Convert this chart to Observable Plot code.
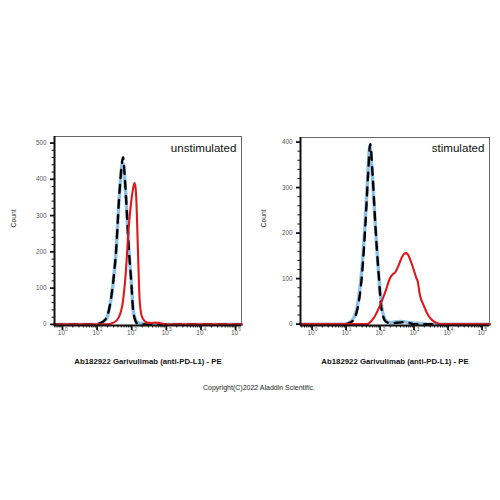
<!DOCTYPE html>
<html><head><meta charset="utf-8">
<script src="https://cdn.jsdelivr.net/npm/d3@7"></script>
<script src="https://cdn.jsdelivr.net/npm/@observablehq/plot@0.6"></script>
<style>
body{margin:0;background:#fff;}
#wrap{position:relative;width:500px;height:500px;background:#fff;font-family:"Liberation Sans",Arial,sans-serif;overflow:hidden;}
.panel{position:absolute;}
#copy{position:absolute;left:0;width:518px;top:384px;text-align:center;font-size:7px;color:#222;}
</style></head><body>
<div id="wrap">
<div id="left" class="panel" style="left:0;top:130px"></div>
<div id="right" class="panel" style="left:250px;top:130px"></div>
<div id="copy">Copyright(C)2022 Aladdin Scientific.</div>
</div>
<script>
// ---- data (x as log10 of PE fluorescence, y as counts) ----
const titles = ["unstimulated", "stimulated"];
const xLabel = "Ab182922 Garivulimab (anti-PD-L1) - PE";
const yLabel = "Count";
const decades = [0, 1, 2, 3, 4, 5];
const leftYTicks = [0, 100, 200, 300, 400, 500];
const rightYTicks = [0, 100, 200, 300, 400];

// unstimulated panel
const leftBlueLog   = [-0.23, 0.95, 1.1, 1.2, 1.3, 1.34, 1.4, 1.46, 1.5, 1.55, 1.6, 1.63, 1.67, 1.71, 1.74, 1.78, 1.84, 1.92, 1.99, 2.04, 2.1, 2.16, 2.25, 2.4, 2.5, 5.17];
const leftBlueCount = [0, 0, 3, 8, 22, 38, 68, 112, 150, 204, 285, 335, 390, 435, 445, 420, 342, 204, 113, 42, 15, 6, 3, 2, 0, 0];
const leftBlackLog   = [-0.23, 0.95, 1.0, 1.1, 1.2, 1.3, 1.34, 1.4, 1.46, 1.5, 1.55, 1.6, 1.63, 1.67, 1.71, 1.75, 1.79, 1.84, 1.92, 1.99, 2.04, 2.1, 2.16, 2.25, 5.17];
const leftBlackCount = [0, 0, 1, 4, 10, 25, 39, 70, 113, 150, 204, 290, 342, 395, 440, 461, 420, 342, 204, 113, 39, 12, 2, 0, 0];
const leftRedLog   = [-0.23, 1.24, 1.48, 1.63, 1.75, 1.84, 1.9, 1.99, 2.04, 2.08, 2.11, 2.13, 2.18, 2.23, 2.3, 2.45, 2.55, 2.7, 2.8, 2.9, 3.0, 5.17];
const leftRedCount = [0, 0, 5, 20, 66, 158, 250, 342, 375, 390, 378, 350, 204, 66, 20, 5, 4, 5, 4, 2, 0, 0];

// stimulated panel
const rightBlueLog   = [-0.34, 0.95, 1.15, 1.32, 1.45, 1.56, 1.64, 1.70, 1.77, 1.86, 1.96, 2.05, 2.17, 2.3, 2.45, 2.6, 2.75, 2.9, 3.1, 3.38, 5.22];
const rightBlueCount = [0, 0, 6, 35, 109, 220, 330, 392, 330, 220, 109, 38, 8, 3, 5, 6, 5, 3, 2, 0, 0];
const rightBlackLog   = [-0.34, 0.98, 1.18, 1.34, 1.47, 1.57, 1.65, 1.71, 1.78, 1.86, 1.96, 2.04, 2.16, 2.3, 2.5, 2.65, 2.75, 2.85, 2.98, 5.22];
const rightBlackCount = [0, 0, 6, 35, 109, 220, 330, 396, 330, 220, 109, 35, 6, 2, 3, 4, 4, 3, 0, 0];
const rightRedLog   = [-0.34, 1.62, 1.81, 2.01, 2.16, 2.3, 2.38, 2.45, 2.55, 2.65, 2.72, 2.78, 2.84, 2.92, 3.0, 3.06, 3.12, 3.16, 3.28, 3.43, 3.58, 3.72, 3.85, 5.22];
const rightRedCount = [0, 0, 13, 43, 72, 102, 110, 114, 130, 148, 155, 156, 150, 135, 117, 103, 90, 69, 42, 18, 6, 1, 0, 0];

const BLUE = "#8cc2ea", RED = "#dc1a1e", FONT = '"Liberation Sans", Arial, sans-serif';

function rows(logs, counts) { return logs.map((e, i) => ({v: Math.pow(10, e), count: counts[i]})); }

function panel(o) {
  const xMin = Math.pow(10, o.xDom[0]), xMax = Math.pow(10, o.xDom[1]);
  const majors = decades.map(d => Math.pow(10, d));
  const minors = [];
  for (let k = -1; k <= 5; k++) for (let m = 2; m <= 9; m++) { const v = m * Math.pow(10, k); if (v > xMin && v < xMax) minors.push(v); }
  const yMinor = [];
  for (let t = 20; t < o.yTop; t += 20) if (t % 100 !== 0) yMinor.push(t);
  return Plot.plot({
    width: 250, height: 240,
    marginLeft: o.mL, marginRight: o.mR, marginTop: o.mT, marginBottom: 45,
    style: {fontFamily: FONT, background: "transparent", overflow: "visible"},
    x: {type: "log", domain: [xMin, xMax], label: null},
    y: {domain: [-3, o.yTop], label: null},
    marks: [
      Plot.frame({stroke: "#444", strokeWidth: 0.8}),
      Plot.line(rows(o.blueLog, o.blueCount), {x: "v", y: "count", stroke: BLUE, strokeWidth: 3.4, curve: "monotone-x"}),
      Plot.line(rows(o.blackLog, o.blackCount), {x: "v", y: "count", stroke: "#000", strokeWidth: 2.4, strokeDasharray: "8,7", curve: "monotone-x"}),
      Plot.line(rows(o.redLog, o.redCount), {x: "v", y: "count", stroke: RED, strokeWidth: 2.1, curve: "monotone-x"}),
      Plot.ruleX([xMin], {stroke: "#111", strokeWidth: 2}),
      Plot.ruleY([-3], {stroke: "#111", strokeWidth: 2}),
      Plot.axisY(o.yTicks, {tickSize: 4, strokeWidth: 1.8, stroke: "#111", fontSize: 6.3, fill: "#555", tickPadding: 4, label: null}),
      Plot.axisY(yMinor, {tickSize: 2.5, stroke: "#111", fill: "none", label: null}),
      Plot.axisX(majors, {tickSize: 5, strokeWidth: 1.8, stroke: "#111", fill: "none", label: null}),
      Plot.axisX(minors, {tickSize: 2.5, stroke: "#111", fill: "none", label: null}),
      Plot.text(decades, {x: d => Math.pow(10, d), text: () => "10", frameAnchor: "bottom", lineAnchor: "bottom", dy: 9.5, dx: -1, fontSize: 6.5, fill: "#555"}),
      Plot.text(decades, {x: d => Math.pow(10, d), text: d => String(d), frameAnchor: "bottom", lineAnchor: "bottom", dy: 5.5, dx: 2.6, textAnchor: "start", fontSize: 4.8, fill: "#555"}),
      Plot.text([o.title], {text: d => d, frameAnchor: "top-right", lineAnchor: "bottom", textAnchor: "end", dx: -5, dy: o.titleDy, fontSize: 11.6, fill: "#111"}),
      Plot.text([xLabel], {text: d => d, frameAnchor: "bottom", lineAnchor: "bottom", dy: 38.5, fontSize: 7.8, fontWeight: "bold", fill: "#111"}),
      Plot.text([yLabel], {text: d => d, frameAnchor: "left", lineAnchor: "middle", rotate: -90, dx: o.countDx, dy: o.countDy, fontSize: 6.8, fill: "#222"})
    ]
  });
}

document.getElementById("left").append(panel({
  blueLog: leftBlueLog, blueCount: leftBlueCount, blackLog: leftBlackLog, blackCount: leftBlackCount,
  redLog: leftRedLog, redCount: leftRedCount, xDom: [-0.23, 5.17], yTop: 518, yTicks: leftYTicks,
  mL: 54, mR: 9, mT: 6, title: titles[0], titleDy: 15.7, countDx: -41, countDy: -3.5
}));
document.getElementById("right").append(panel({
  blueLog: rightBlueLog, blueCount: rightBlueCount, blackLog: rightBlackLog, blackCount: rightBlackCount,
  redLog: rightRedLog, redCount: rightRedCount, xDom: [-0.34, 5.22], yTop: 410, yTicks: rightYTicks,
  mL: 50, mR: 11, mT: 7, title: titles[1], titleDy: 14.7, countDx: -37, countDy: -4
}));
</script>
</body></html>
